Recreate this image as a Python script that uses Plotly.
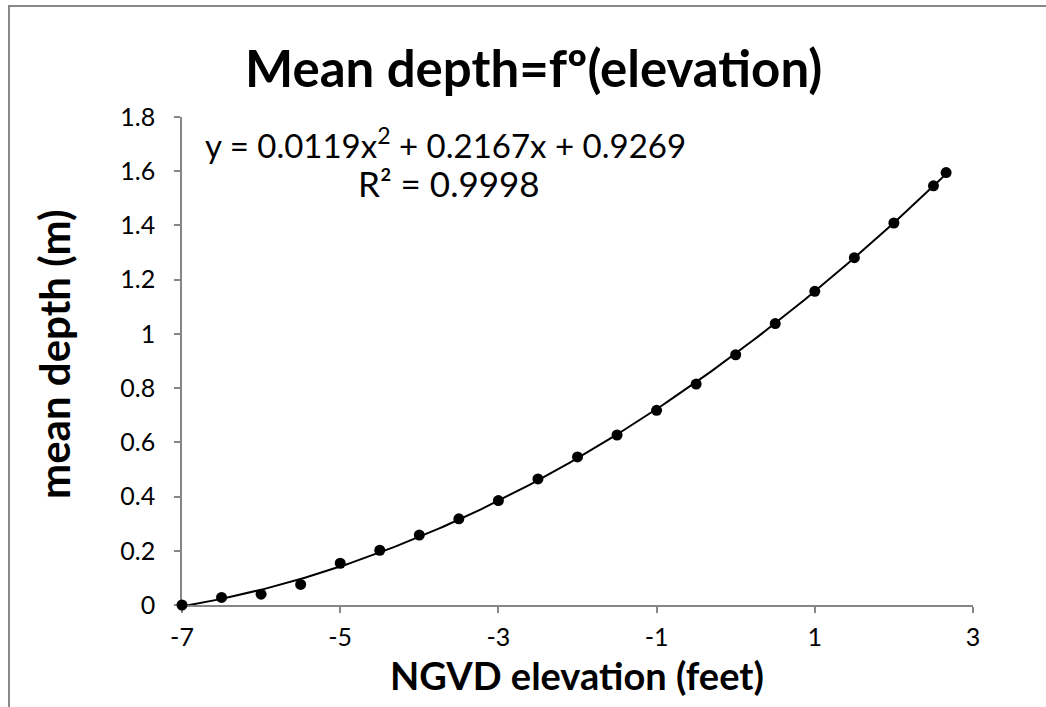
import numpy as np
import plotly.graph_objects as go

# Data
elevation_ft = [-7, -6.5, -6, -5.5, -5, -4.5, -4, -3.5, -3, -2.5, -2, -1.5,
                -1, -0.5, 0, 0.5, 1, 1.5, 2, 2.5, 2.66]
mean_depth_m = [0.0, 0.028, 0.040, 0.076, 0.154, 0.202, 0.258, 0.318, 0.385,
                0.465, 0.546, 0.627, 0.718, 0.815, 0.923, 1.038, 1.157, 1.281,
                1.409, 1.546, 1.595]
x_ticks = [-7, -5, -3, -1, 1, 3]
x_labels = ["-7", "-5", "-3", "-1", "1", "3"]
y_ticks = [0, 0.2, 0.4, 0.6, 0.8, 1, 1.2, 1.4, 1.6, 1.8]
y_labels = ["0", "0.2", "0.4", "0.6", "0.8", "1", "1.2", "1.4", "1.6", "1.8"]

title_text = "Mean depth=fº(elevation)"
eq_text = "y = 0.0119x<sup>2</sup> + 0.2167x + 0.9269"
r2_text = "R² = 0.9998"

# Polynomial (order 2) trendline fitted to the data
coef = np.polyfit(elevation_ft, mean_depth_m, 2)
xt = np.linspace(min(elevation_ft), max(elevation_ft), 200)
yt = np.polyval(coef, xt)

W, H = 1046, 707
L, R, T, B = 182, 973, 117, 605
def px(xp):
    return (xp - L) / (R - L)
def py(yp):
    return (B - yp) / (B - T)

FONT = "Lato"

fig = go.Figure()
fig.add_trace(go.Scatter(x=xt, y=yt, mode="lines",
                         line=dict(color="black", width=2), hoverinfo="skip",
                         showlegend=False, cliponaxis=False))
fig.add_trace(go.Scatter(x=elevation_ft, y=mean_depth_m, mode="markers",
                         marker=dict(color="black", size=11),
                         showlegend=False, cliponaxis=False))

axis_common = dict(showgrid=False, zeroline=False, showline=True,
                   linecolor="#868686", linewidth=1.5, ticks="outside",
                   ticklen=6, tickcolor="#868686", tickwidth=1.5,
                   layer="below traces",
                   tickfont=dict(family=FONT, size=25, color="black"))

fig.update_xaxes(range=[-7, 3], tickvals=x_ticks, ticktext=x_labels,
                 ticklabelstandoff=3, **axis_common)
fig.update_yaxes(range=[0, 1.8], tickvals=y_ticks, ticktext=y_labels,
                 ticklabelstandoff=14, **axis_common)

def ann(text, x, y, size, **kw):
    d = dict(text=text, x=px(x), y=py(y), xref="paper", yref="paper",
             showarrow=False, xanchor="center", yanchor="middle",
             font=dict(size=size, family=FONT, color="black"))
    d.update(kw)
    return d

fig.update_layout(
    width=W, height=H,
    margin=dict(l=L, r=W - R, t=T, b=H - B),
    paper_bgcolor="white", plot_bgcolor="white",
    font=dict(family=FONT, color="black"),
    annotations=[
        ann("<b>" + title_text + "</b>", 533, 68, 51),
        ann(eq_text, 203, 143, 33, xanchor="left"),
        ann(r2_text, 449, 183, 35),
        ann("<b>NGVD elevation (feet)</b>", 577, 675, 38),
        ann("<b>mean depth (m)</b>", 54, 354, 42, textangle=-90),
    ],
    shapes=[
        dict(type="path", xref="paper", yref="paper",
             path=f"M {px(9)},{py(720)} L {px(9)},{py(6)} L {px(1070)},{py(6)}",
             line=dict(color="#888888", width=2)),
    ],
)

fig.write_html("out.html", config={"displayModeBar": False},
               post_script="document.body.style.margin='0';")
